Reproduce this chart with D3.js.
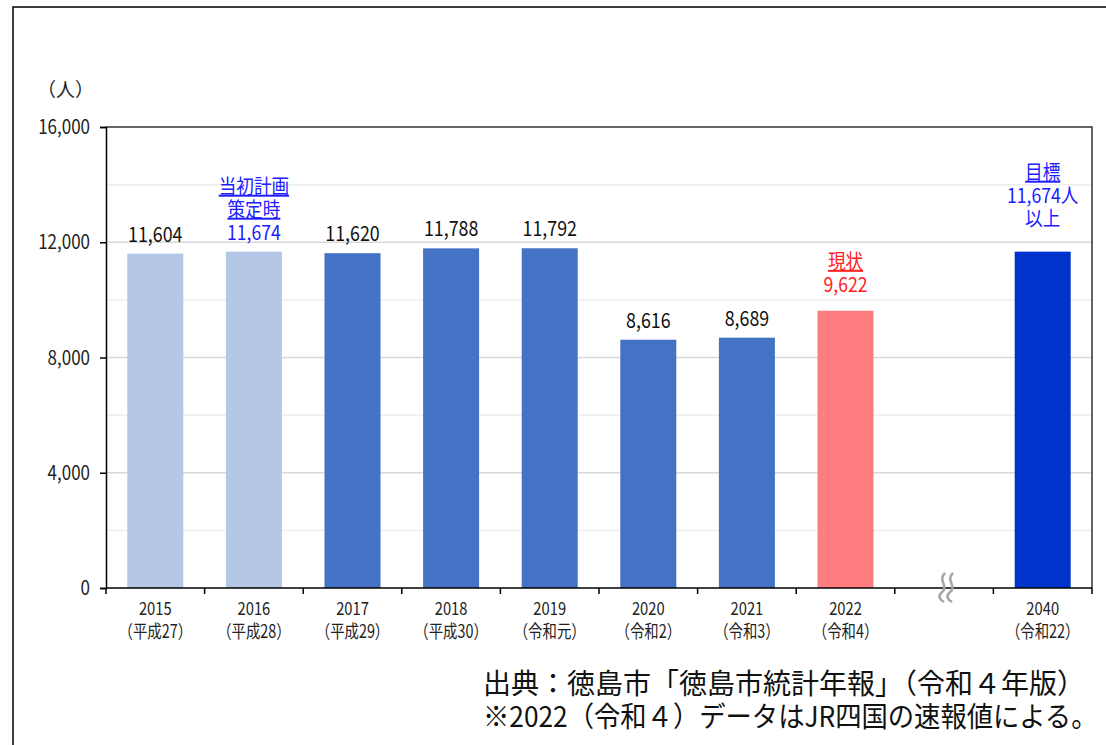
<!DOCTYPE html>
<html><head><meta charset="utf-8">
<script src="https://cdn.jsdelivr.net/npm/d3@7/dist/d3.min.js"></script>
<style>
html,body{margin:0;padding:0;background:#fff;}
svg{display:block;font-family:"Noto Sans CJK JP","Noto Sans",sans-serif;}
</style></head>
<body><svg id="c" width="1106" height="745"></svg>
<script>
// ---- data ----
const categories = ["2015","2016","2017","2018","2019","2020","2021","2022","break","2040"];
const eraLabels = ["（平成27）","（平成28）","（平成29）","（平成30）","（令和元）","（令和2）","（令和3）","（令和4）","","（令和22）"];
const values = [11604, 11674, 11620, 11788, 11792, 8616, 8689, 9622, null, 11674];
const barColors = ["#B4C7E7","#B4C7E7","#4472C4","#4472C4","#4472C4","#4472C4","#4472C4","#FF7C80",null,"#0033CC"];
const yTicks = [0, 4000, 8000, 12000, 16000];
const gridValues = [2000, 4000, 6000, 8000, 10000, 12000, 14000];
const annotations = [
  {cat:"2016", lines:["当初計画","策定時","11,674"], underlined:[0,1], color:"#2020FF"},
  {cat:"2022", lines:["現状","9,622"], underlined:[0], color:"#FF2020"},
  {cat:"2040", lines:["目標","11,674人","以上"], underlined:[0], color:"#2020FF"}
];
const unitLabel = "（人）";
const sourceLines = ["出典：徳島市「徳島市統計年報」（令和４年版）","※2022（令和４）データはJR四国の速報値による。"];

// ---- layout ----
const svg = d3.select("#c");
const L = 106, R = 1092, T = 127, B = 588;
const x = d3.scaleBand().domain(categories).range([L, R]).paddingInner(0.432).paddingOuter(0.216);
const y = d3.scaleLinear().domain([0, 16000]).range([B, T]);
const step = x.step();
const fmt = d3.format(",");

// outer frame
svg.append("rect").attr("x",13).attr("y",7).attr("width",1200).attr("height",800)
  .attr("fill","none").attr("stroke","#000").attr("stroke-width",1.5);

// gridlines
svg.append("g").selectAll("line").data(gridValues).join("line")
  .attr("x1",L).attr("x2",R).attr("y1",d=>y(d)).attr("y2",d=>y(d))
  .attr("stroke",d=> d%4000===0 ? "#D9D9D9" : "#EEEEEE").attr("stroke-width",1.5);

// plot border (top/right)
svg.append("path").attr("d",`M${L},${T}H${R}V${B}`).attr("fill","none").attr("stroke","#333").attr("stroke-width",1.5);

// bars
const bd = categories.map((c,i)=>({c, v:values[i], col:barColors[i]})).filter(d=>d.v!=null);
svg.append("g").selectAll("rect").data(bd).join("rect")
  .attr("x",d=>x(d.c)).attr("width",x.bandwidth())
  .attr("y",d=>y(d.v)).attr("height",d=>B-y(d.v)).attr("fill",d=>d.col);

// helper for condensed text
function ctext(g, tx, ty, str, size, sx, fill, anchor){
  return g.append("text").attr("transform",`translate(${tx},${ty}) scale(${sx},1)`)
    .attr("text-anchor",anchor||"middle").attr("font-size",size).attr("fill",fill||"#111").text(str);
}

// y axis
const yAxis = svg.append("g").attr("transform",`translate(${L},0)`)
  .call(d3.axisLeft(y).tickValues(yTicks).tickSize(6).tickFormat(()=>""));
yAxis.select(".domain").attr("stroke","#000").attr("stroke-width",1.5);
yAxis.selectAll(".tick line").attr("stroke","#000").attr("stroke-width",1.5);
const yl = svg.append("g");
yTicks.forEach(t=>ctext(yl, 90, y(t)+7, fmt(t), 20, 0.85, "#222", "end"));

// x axis
svg.append("line").attr("x1",L).attr("x2",R).attr("y1",B).attr("y2",B).attr("stroke","#000").attr("stroke-width",1.5);
const bounds = categories.map(c=>x(c) - step*x.paddingInner()/2).concat([R]);
svg.append("g").selectAll("line").data(bounds).join("line")
  .attr("x1",d=>d).attr("x2",d=>d).attr("y1",B).attr("y2",B+6).attr("stroke","#000").attr("stroke-width",1.5);
const xl = svg.append("g");
categories.forEach((c,i)=>{
  if (values[i]==null) return;
  const cx = x(c)+x.bandwidth()/2;
  ctext(xl, cx, 615, c, 18, 0.82, "#222");
  ctext(xl, cx, 637.5, eraLabels[i], 18, 0.8, "#222");
});

// break mark
const bi = categories.indexOf("break");
const bcx = x(categories[bi]) + x.bandwidth()/2 + 3;
[-4, 4].forEach(dx=>{
  const x0 = bcx+dx;
  svg.append("path").attr("d",`M${x0+2},${B-15} C${x0-6},${B-8} ${x0+6},${B-2} ${x0-1},${B+4} C${x0-6},${B+8} ${x0-3},${B+12} ${x0+1},${B+14}`)
    .attr("fill","none").attr("stroke","#A6A6A6").attr("stroke-width",2.5);
});

// value labels
const annotated = annotations.map(a=>a.cat);
const vl = svg.append("g");
categories.forEach((c,i)=>{
  if (values[i]==null || annotated.includes(c)) return;
  ctext(vl, x(c)+x.bandwidth()/2, y(values[i])-12, fmt(values[i]), 21, 0.85, "#111");
});

// annotations
const extraOffset = {"2016":12, "2022":19, "2040":26};
const lineH = 23;
annotations.forEach(a=>{
  const i = categories.indexOf(a.cat);
  const cx = x(a.cat)+x.bandwidth()/2;
  const n = a.lines.length;
  a.lines.forEach((ln,k)=>{
    const by = y(values[i]) - extraOffset[a.cat] - (n-1-k)*lineH;
    const t = ctext(vl, cx, by, ln, 20, 0.88, a.color);
    if (a.underlined.includes(k)) t.attr("text-decoration","underline");
  });
});

// unit label
svg.append("text").attr("x",37).attr("y",97).attr("font-size",19).attr("fill","#222").text(unitLabel);

// source
svg.append("text").attr("x",483).attr("y",694).attr("font-size",28).attr("fill","#111").text(sourceLines[0]);
svg.append("text").attr("transform","translate(483,727) scale(0.94,1)").attr("font-size",28).attr("fill","#111").text(sourceLines[1]);
</script></body></html>
